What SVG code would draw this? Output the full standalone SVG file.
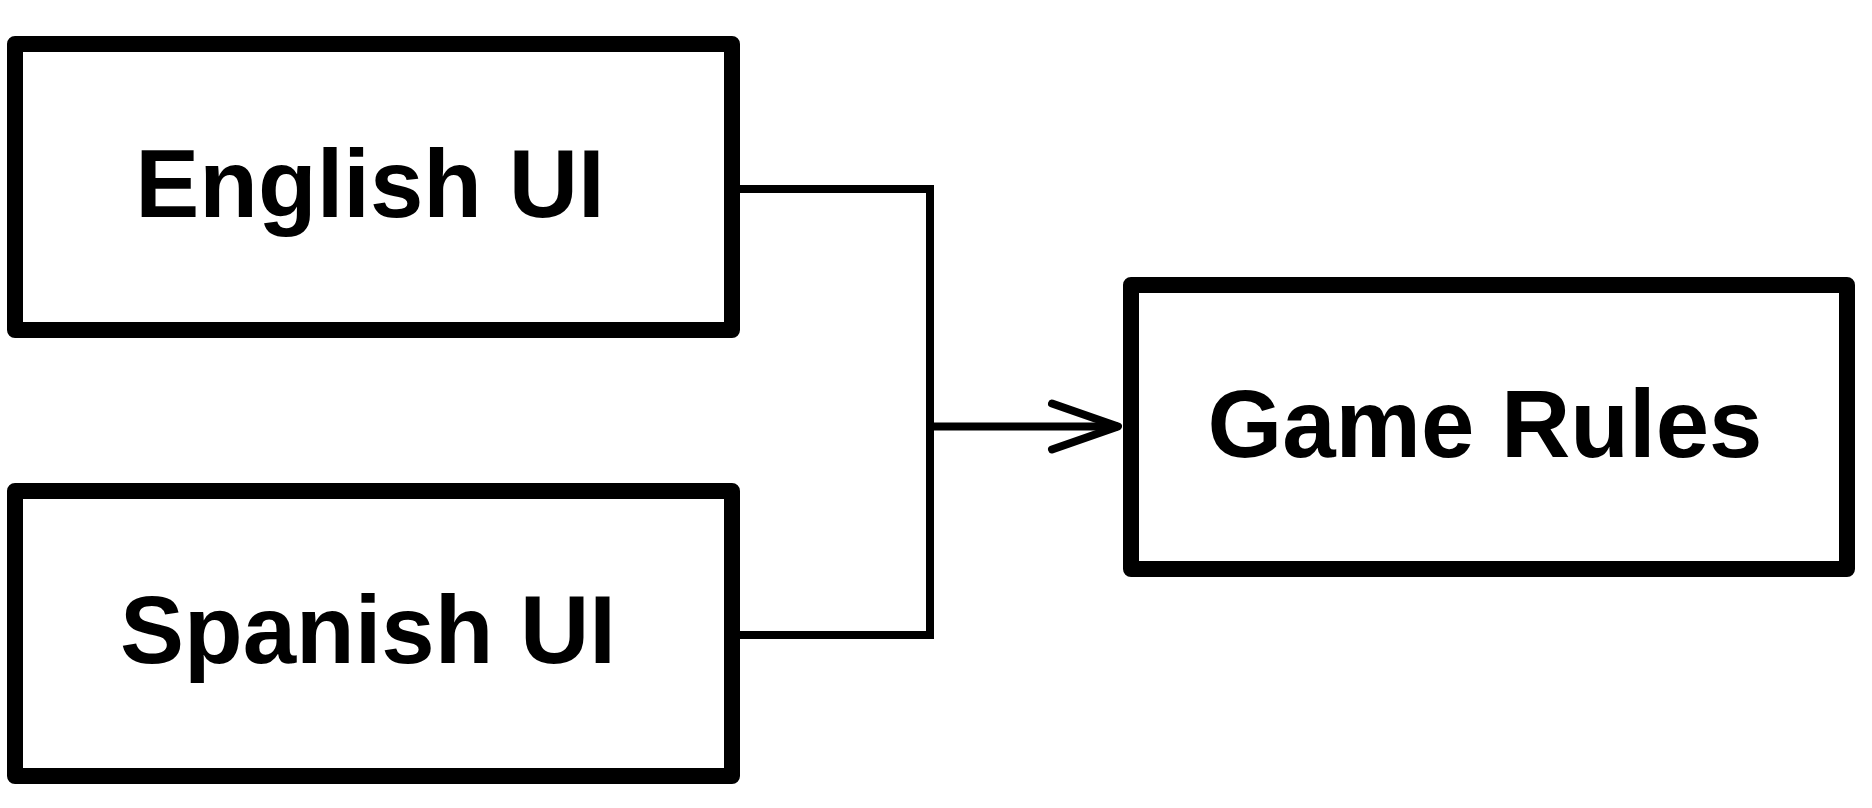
<svg xmlns="http://www.w3.org/2000/svg" width="1872" height="808" viewBox="0 0 1872 808">
  <style>
    .box { fill: #ffffff; stroke: #000000; stroke-width: 16; stroke-linejoin: round; }
    .label { font-family: "Liberation Sans", Arial, Helvetica, sans-serif; font-weight: bold; font-size: 96px; fill: #000000; text-anchor: middle; }
    .conn { fill: none; stroke: #000000; stroke-width: 8; }
  </style>
  <defs>
    <marker id="openArrow" markerUnits="userSpaceOnUse" viewBox="0 0 72 52" refX="69" refY="26" markerWidth="72" markerHeight="52" orient="auto" overflow="visible">
      <path d="M3,3 L69,26 L3,49" fill="none" stroke="#000000" stroke-width="8" stroke-linecap="round" stroke-linejoin="round"/>
    </marker>
  </defs>
  <rect x="0" y="0" width="1872" height="808" fill="#ffffff"/>

  <g id="connectors">
    <path class="conn" d="M740,189 H930 V635 H740"/>
    <path class="conn" d="M926,426.5 H1118" marker-end="url(#openArrow)"/>
  </g>

  <g id="english-ui">
    <rect class="box" x="15" y="44" width="717" height="286"/>
    <text class="label" x="370" y="217">English UI</text>
  </g>

  <g id="spanish-ui">
    <rect class="box" x="15" y="491" width="717" height="285"/>
    <text class="label" x="368" y="663">Spanish UI</text>
  </g>

  <g id="game-rules">
    <rect class="box" x="1131" y="285" width="716" height="284"/>
    <text class="label" x="1485" y="457">Game Rules</text>
  </g>
</svg>
